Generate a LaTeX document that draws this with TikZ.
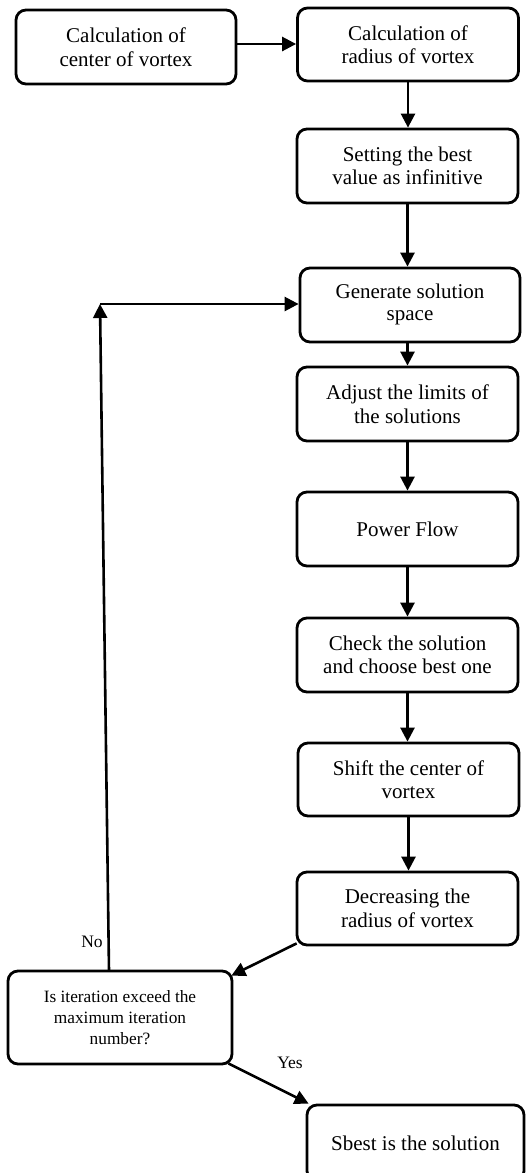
\documentclass[tikz,border=0pt]{standalone}
\usepackage{fontspec}
\setmainfont{Liberation Serif}
\usetikzlibrary{arrows.meta,calc}
\begin{document}
\begin{tikzpicture}[x=1pt,y=-1pt,
  stepbox/.style={draw=black,line width=2.8pt,rounded corners=10pt,align=center,
    inner sep=0pt,minimum width=221pt,minimum height=74pt,
    font=\fontsize{21}{23.5}\selectfont},
  decbox/.style={stepbox,minimum width=224pt,minimum height=93pt,
    font=\fontsize{17.3}{21}\selectfont},
  arr/.style={line width=2.6pt,-{Triangle[length=14pt,width=14pt]}},
  lbl/.style={font=\fontsize{17.5}{20}\selectfont,inner sep=0pt}]
\useasboundingbox (0,0) rectangle (525,1173);
\node[stepbox,minimum width=220pt] (B1) at (126,47) {Calculation of\\center of vortex};
\node[stepbox,minimum height=73pt] (B2) at (408,44.5) {Calculation of\\radius of vortex};
\node[stepbox] (B3) at (407.5,166) {Setting the best\\value as infinitive};
\node[stepbox,minimum width=220pt] (B4) at (410,305) {\raisebox{-3pt}{\begin{tabular}{@{}c@{}}Generate solution\\[-1.5pt]space\end{tabular}}};
\node[stepbox] (B5) at (407.5,404) {Adjust the limits of\\the solutions};
\node[stepbox] (B6) at (407.5,529) {Power Flow};
\node[stepbox] (B7) at (407.5,655) {Check the solution\\and choose best one};
\node[stepbox,minimum height=73pt] (B8) at (408.5,779.5) {Shift the center of\\vortex};
\node[stepbox,minimum height=73pt] (B9) at (407.5,908.5) {Decreasing the\\radius of vortex};
\node[decbox] (D) at (120,1017.5) {Is iteration exceed the\\maximum iteration\\number?};
\node[stepbox,minimum width=217pt,minimum height=76pt] (F) at (415.5,1143) {Sbest is the solution};
\draw[arr] (B1.east |- 0,44) -- (B2.west |- 0,44);
\draw[arr] (B2.south) -- (B2.south |- B3.north);
\draw[arr] (B3.south) -- (B3.south |- B4.north);
\draw[arr] (B4.south -| B3.south) -- (B3.south |- B5.north);
\draw[arr] (B5.south) -- (B5.south |- B6.north);
\draw[arr] (B6.south) -- (B6.south |- B7.north);
\draw[arr] (B7.south) -- (B7.south |- B8.north);
\draw[arr] (B8.south) -- (B8.south |- B9.north);
\draw[arr] ($(B9.south west)+(1,-3)$) -- ($(D.north east)+(-2,6)$);
\draw[arr] ($(D.south east)+(-5,-2)$) -- ($(F.north west)+(3,0)$);
\coordinate (n0) at (109,971);
\coordinate (c1) at (100,304);
\draw[arr] (n0) -- (c1);
\draw[arr] (c1) -- (B4.west |- c1);
\node[lbl] (no) at (92,942) {No};
\node[lbl] (yes) at (290,1063) {Yes};
\end{tikzpicture}
\end{document}
